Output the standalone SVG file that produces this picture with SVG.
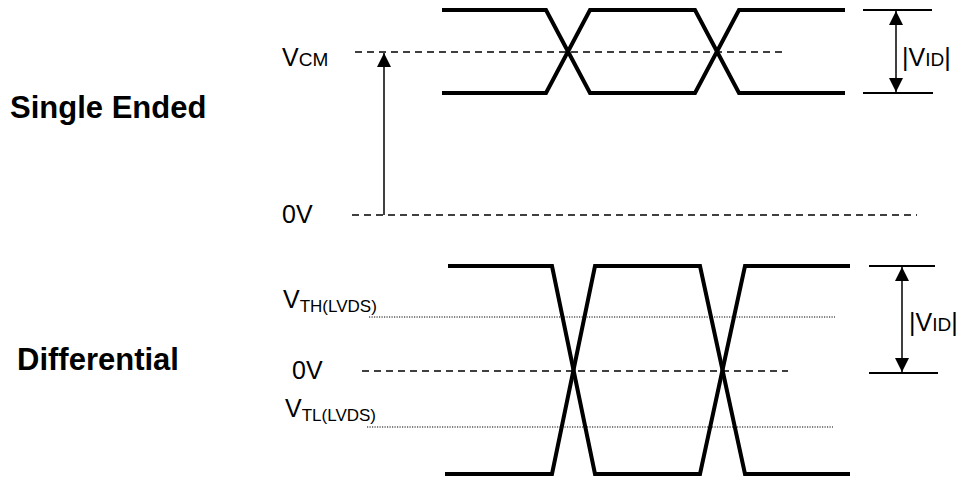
<svg xmlns="http://www.w3.org/2000/svg" width="961" height="478" viewBox="0 0 961 478">
<style>
text{font-family:"Liberation Sans",Arial,sans-serif;fill:#000}
.title{font-weight:bold;font-size:31px}
.lbl{font-size:25px}
.sm{font-size:19px}
.sub{font-size:17px}
.wave{fill:none;stroke:#000;stroke-width:4;stroke-linejoin:miter}
.dash{stroke:#000;stroke-width:1.5;stroke-dasharray:7 5;fill:none}
.dot{stroke:#000;stroke-width:1;stroke-dasharray:1.2 1.3;fill:none}
.dim{stroke:#000;stroke-width:2;fill:none}
.ln{stroke:#000;stroke-width:1.5;fill:none}
</style>
<defs>
<marker id="ah2" viewBox="0 0 10 10" refX="10" refY="5" markerWidth="17" markerHeight="14" markerUnits="userSpaceOnUse" orient="auto-start-reverse">
<path d="M0,0 L10,5 L0,10 z" fill="#000"/>
</marker>
</defs>

<g id="labels">
<text class="title" x="10" y="118">Single Ended</text>
<text class="title" x="17" y="370">Differential</text>
</g>

<g id="single-ended">
<g id="se-vcm-label"><text x="282" y="66"><tspan class="lbl">V</tspan><tspan class="sm">CM</tspan></text></g>
<g id="se-0v-label"><text class="lbl" x="282" y="223">0V</text></g>
<g id="se-wave">
<path class="wave" d="M442,10 H546 L590,93 H695 L739,10 H845"/>
<path class="wave" d="M442,93 H546 L590,10 H695 L739,93 H845"/>
</g>
<g id="se-vid">
<path class="dim" d="M863,10 H932 M863,93 H933"/>
<text x="902" y="66"><tspan class="lbl">|V</tspan><tspan class="sm">ID</tspan><tspan class="lbl">|</tspan></text>
</g>
</g>

<g id="differential">
<g id="df-vth-label"><text x="283" y="308"><tspan class="lbl">V</tspan><tspan class="sub" dy="4">TH(LVDS)</tspan></text></g>
<g id="df-0v-label"><text class="lbl" x="292" y="379">0V</text></g>
<g id="df-vtl-label"><text x="285" y="417"><tspan class="lbl">V</tspan><tspan class="sub" dy="4">TL(LVDS)</tspan></text></g>
<g id="df-wave">
<path class="wave" d="M448,266 H552 L595,474 H700 L745,266 H850"/>
<path class="wave" d="M445,474 H552 L595,266 H700 L745,474 H850"/>
</g>
<g id="df-vid">
<path class="dim" d="M869,266 H935 M869,373 H938"/>
<text x="909" y="331"><tspan class="lbl">|V</tspan><tspan class="sm">ID</tspan><tspan class="lbl">|</tspan></text>
</g>
</g>

<g id="connectors">
<path class="dash" d="M355,52 H785"/>
<path class="dash" d="M352,215 H917"/>
<path class="dash" d="M362,371 H788"/>
<path class="dot" d="M369,317 H835"/>
<path class="dot" d="M367,427 H833"/>
<path class="ln" d="M384,215 V53" marker-end="url(#ah2)"/>
<path class="ln" d="M896,11 V92" marker-start="url(#ah2)" marker-end="url(#ah2)"/>
<path class="ln" d="M902,267 V372" marker-start="url(#ah2)" marker-end="url(#ah2)"/>
</g>
</svg>
